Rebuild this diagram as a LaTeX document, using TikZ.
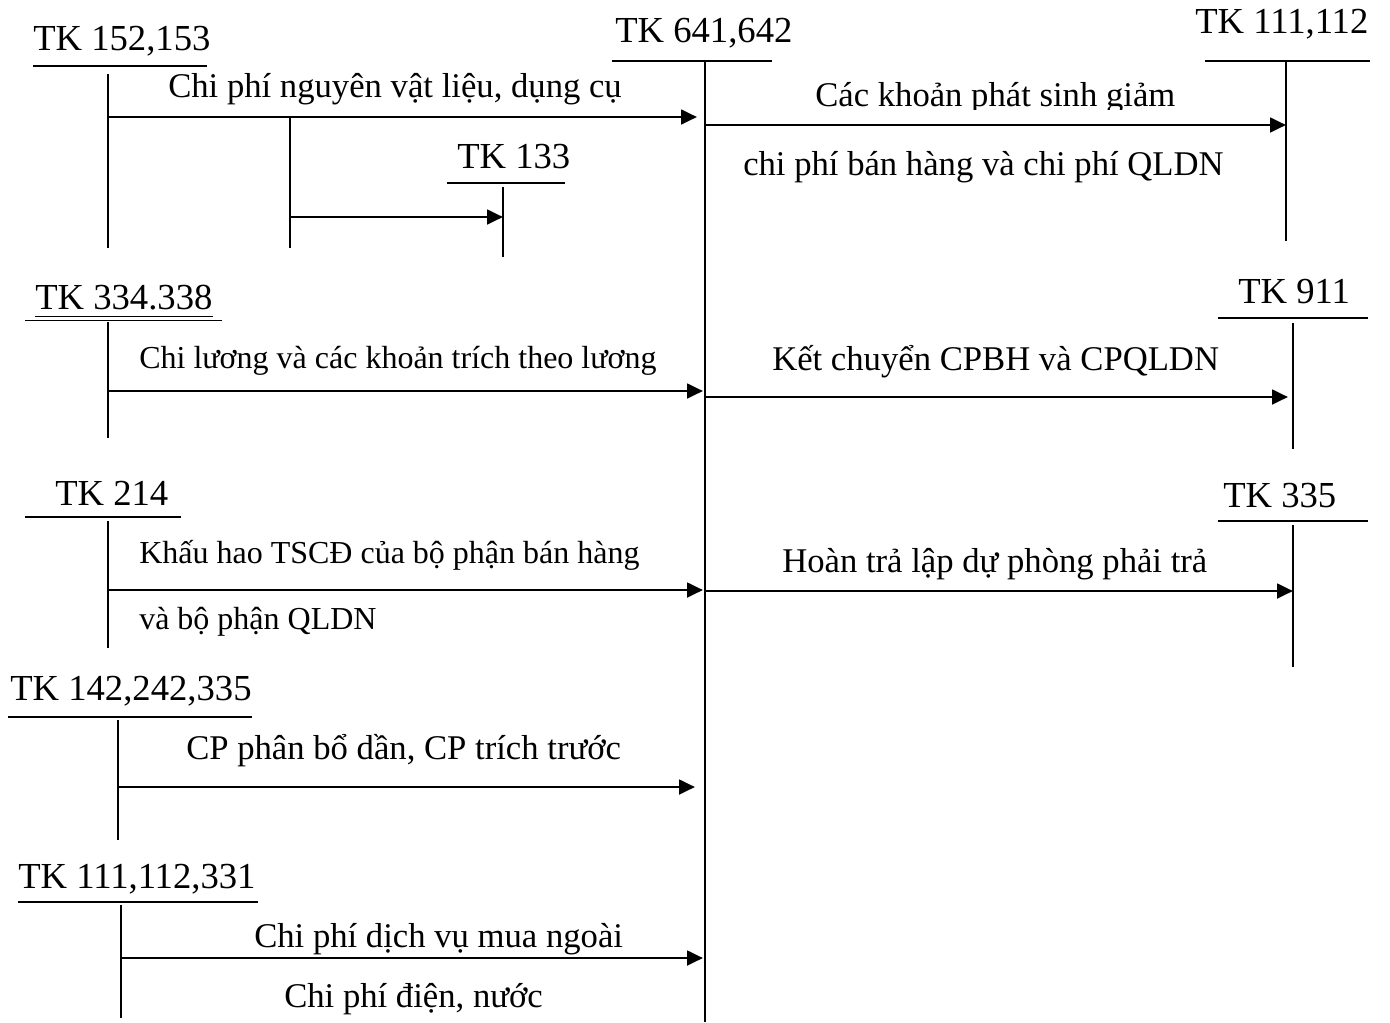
\documentclass[tikz,border=0pt]{standalone}
\usepackage{fontspec}
\setmainfont{Liberation Serif}
\usetikzlibrary{arrows.meta}
\begin{document}
\begin{tikzpicture}[x=0.75pt,y=-0.75pt,
  hdr/.style={anchor=base west, inner sep=0pt, font=\fontsize{27.5}{30}\selectfont},
  lbl/.style={anchor=base west, inner sep=0pt, font=\fontsize{26}{28}\selectfont},
  lbls/.style={anchor=base west, inner sep=0pt, font=\fontsize{24}{26}\selectfont},
  tline/.style={line width=1.1pt},
  uline/.style={line width=1.4pt},
  flow/.style={line width=2.1pt, -{Triangle[length=12pt,width=11pt]}}]
\useasboundingbox (0,0) rectangle (1390,1022);

% ---------- TK 641,642 (main account) ----------
\node[hdr] (h641) at (615,42) {TK 641,642};
\draw[uline] (612,61) -- (772,61);
\coordinate (m0) at (705,62);
\coordinate (m1) at (705,1022);
\draw[tline] (m0) -- (m1);

% ---------- TK 152,153 ----------
\node[hdr] (h152) at (33,50) {TK 152,153};
\draw[uline] (33,66) -- (207,66);
\draw[tline] (108,74) -- (108,248);
\coordinate (a1s) at (108,117);
\coordinate (a1e) at (697,117);
\draw[flow] (a1s) -- (a1e);
\node[lbl] (l1) at (168,97) {Chi phí nguyên vật liệu, dụng cụ};
% branch to TK 133
\coordinate (b0) at (290,117);
\coordinate (b1) at (290,248);
\draw[tline] (b0) -- (b1);
\node[hdr] (h133) at (457,168) {TK 133};
\draw[uline] (447,183) -- (565,183);
\draw[tline] (503,187) -- (503,257);
\coordinate (bs) at (290,217);
\coordinate (be) at (503,217);
\draw[flow] (bs) -- (be);

% ---------- TK 111,112 (right) ----------
\node[hdr] (h111) at (1195,33) {TK 111,112};
\draw[uline] (1205,61) -- (1370,61);
\draw[tline] (1286,61) -- (1286,241);
\coordinate (a2s) at (705,125);
\coordinate (a2e) at (1286,125);
\draw[flow] (a2s) -- (a2e);
\begin{scope}
  \clip (720,60) rectangle (1280,109);
  \node[lbl] (l2a) at (815,106) {Các khoản phát sinh giảm};
\end{scope}
\node[lbl] (l2b) at (743,175) {chi phí bán hàng và chi phí QLDN};

% ---------- TK 334.338 ----------
\node[hdr] (h334) at (35,309) {TK 334.338};
\draw[line width=0.9pt] (35,316.5) -- (213,316.5);
\draw[uline] (25,320.5) -- (222,320.5);
\draw[tline] (108,322) -- (108,438);
\coordinate (a3s) at (108,391);
\coordinate (a3e) at (703,391);
\draw[flow] (a3s) -- (a3e);
\node[lbls] (l3) at (139,368) {Chi lương và các khoản trích theo lương};

% ---------- TK 911 ----------
\node[hdr] (h911) at (1238,303) {TK 911};
\draw[uline] (1218,318) -- (1368,318);
\draw[tline] (1293,323) -- (1293,449);
\coordinate (a4s) at (705,397);
\coordinate (a4e) at (1288,397);
\draw[flow] (a4s) -- (a4e);
\node[lbl] (l4) at (772,370) {Kết chuyển CPBH và CPQLDN};

% ---------- TK 214 ----------
\node[hdr] (h214) at (55,505) {TK 214};
\draw[uline] (25,517) -- (181,517);
\draw[tline] (108,521) -- (108,648);
\coordinate (a5s) at (108,590);
\coordinate (a5e) at (703,590);
\draw[flow] (a5s) -- (a5e);
\node[lbls] (l5a) at (139,563) {Khấu hao TSCĐ của bộ phận bán hàng};
\node[lbls] (l5b) at (139,629) {và bộ phận QLDN};

% ---------- TK 335 ----------
\node[hdr] (h335) at (1223,507) {TK 335};
\draw[uline] (1218,521) -- (1368,521);
\draw[tline] (1293,525) -- (1293,667);
\coordinate (a6s) at (705,591);
\coordinate (a6e) at (1293,591);
\draw[flow] (a6s) -- (a6e);
\node[lbl] (l6) at (782,572) {Hoàn trả lập dự phòng phải trả};

% ---------- TK 142,242,335 ----------
\node[hdr] (h142) at (10,700) {TK 142,242,335};
\draw[uline] (8,717) -- (252,717);
\draw[tline] (118,720) -- (118,840);
\coordinate (a7s) at (118,787);
\coordinate (a7e) at (695,787);
\draw[flow] (a7s) -- (a7e);
\node[lbl] (l7) at (186,759) {CP phân bổ dần, CP trích trước};

% ---------- TK 111,112,331 ----------
\node[hdr] (h331) at (18,888) {TK 111,112,331};
\draw[uline] (18,902) -- (258,902);
\draw[tline] (121,905) -- (121,1018);
\coordinate (a8s) at (121,958);
\coordinate (a8e) at (703,958);
\draw[flow] (a8s) -- (a8e);
\node[lbl] (l8a) at (254,947) {Chi phí dịch vụ mua ngoài};
\node[lbl] (l8b) at (284,1007) {Chi phí điện, nước};
\end{tikzpicture}
\end{document}
